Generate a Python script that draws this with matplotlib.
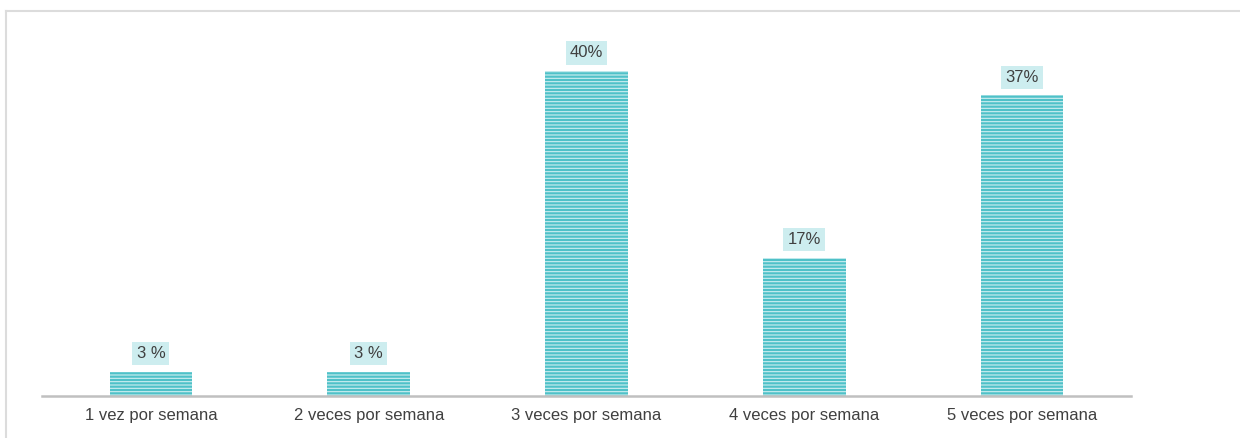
import matplotlib
matplotlib.use("Agg")
import matplotlib.pyplot as plt
from matplotlib.lines import Line2D

plt.rcParams["font.family"] = ["Liberation Sans", "DejaVu Sans"]
plt.rcParams["hatch.linewidth"] = 0.8

categories = [
    "1 vez por semana",
    "2 veces por semana",
    "3 veces por semana",
    "4 veces por semana",
    "5 veces por semana",
]
values = [3, 3, 40, 17, 37]
value_labels = ["3 %", "3 %", "40%", "17%", "37%"]

fig = plt.figure(figsize=(12.4, 4.38), dpi=100)
ax = fig.add_axes([42 / 1240, 42 / 438, (1131 - 42) / 1240, 365.6 / 438])

x = list(range(len(categories)))
ax.bar(x, values, width=0.38, color="#4fc1c8", edgecolor="#cdeff1",
       linewidth=0, hatch="-----", zorder=2)

for xi, v, lab in zip(x, values, value_labels):
    ax.annotate(lab, (xi, v), xytext=(0, 13), textcoords="offset points",
                ha="center", va="center", fontsize=12, color="#404040",
                bbox=dict(boxstyle="square,pad=0.25", fc="#cdedef", ec="none"))

ax.set_xlim(-0.5, len(categories) - 0.5)
ax.set_ylim(0, 45)
ax.set_xticks(x)
ax.set_xticklabels(categories, fontsize=12, color="#404040")
ax.tick_params(axis="x", length=0, pad=8.5)
ax.set_yticks([])
for side in ["top", "right", "left"]:
    ax.spines[side].set_visible(False)
ax.spines["bottom"].set_color("#c0c0c0")
ax.spines["bottom"].set_linewidth(1.8)

# outer frame (top and left only)
fig.add_artist(Line2D([5.5 / 1240, 1.0], [1 - 10.5 / 438, 1 - 10.5 / 438],
                      transform=fig.transFigure, color="#dcdcdc", lw=1.5))
fig.add_artist(Line2D([5.5 / 1240, 5.5 / 1240], [0, 1 - 10.5 / 438],
                      transform=fig.transFigure, color="#dcdcdc", lw=1.5))

fig.savefig("out.png", dpi=100)
